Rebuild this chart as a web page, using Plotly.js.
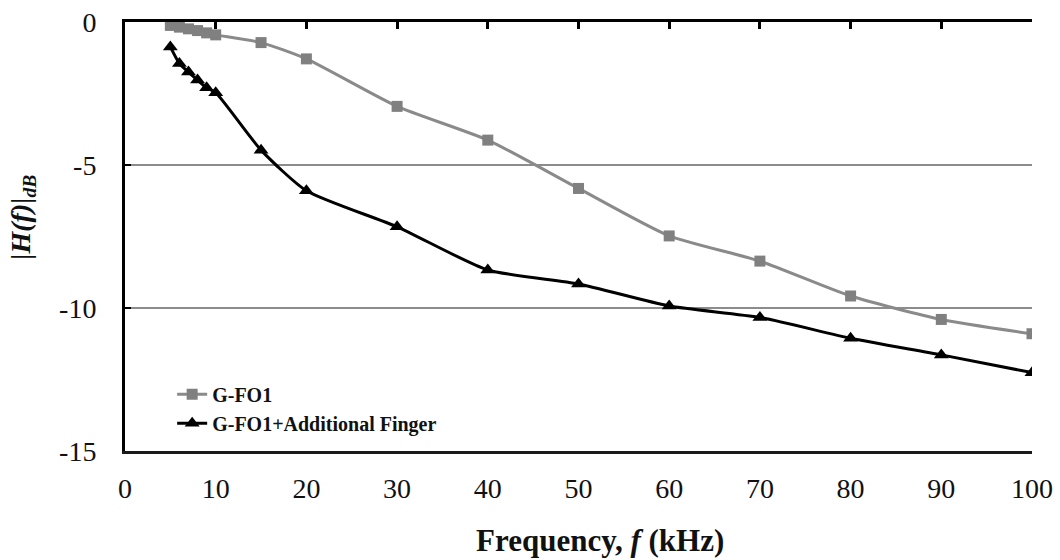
<!DOCTYPE html>
<html>
<head>
<meta charset="utf-8">
<script src="https://cdn.plot.ly/plotly-3.0.1.min.js"></script>
<style>html,body{margin:0;padding:0;background:#fff;}#chart{width:1060px;height:560px;}</style>
</head>
<body>
<div id="chart"></div>
<script>
// Frequency (kHz)
const freq = [5, 6, 7, 8, 9, 10, 15, 20, 30, 40, 50, 60, 70, 80, 90, 100];
// |H(f)| dB, G-FO1
const gfo1 = [-0.12, -0.18, -0.24, -0.3, -0.38, -0.45, -0.72, -1.29, -2.95, -4.13, -5.82, -7.48, -8.36, -9.58, -10.4, -10.9];
// |H(f)| dB, G-FO1 + Additional Finger
const gfo1Finger = [-0.87, -1.45, -1.75, -2.03, -2.3, -2.47, -4.48, -5.9, -7.16, -8.67, -9.16, -9.93, -10.33, -11.06, -11.64, -12.26];
const seriesNames = ['G-FO1', 'G-FO1+Additional Finger'];
const xTicks = [0, 10, 20, 30, 40, 50, 60, 70, 80, 90, 100];
const yTicks = [0, -5, -10, -15];

const serif = '"Liberation Serif", "Times New Roman", serif';

const traces = [
  {
    x: freq, y: gfo1, name: seriesNames[0], type: 'scatter', mode: 'lines+markers',
    line: {color: '#8a8a8a', width: 3, shape: 'spline', smoothing: 0.6},
    marker: {symbol: 'square', size: 11, color: '#808080'}
  },
  {
    x: freq, y: gfo1Finger, name: seriesNames[1], type: 'scatter', mode: 'lines+markers',
    line: {color: '#000000', width: 3, shape: 'spline', smoothing: 0.6},
    marker: {symbol: 'triangle-up', size: 13, color: '#000000'}
  },
  {
    x: [0], y: [-20], xaxis: 'x2', yaxis: 'y', showlegend: false, hoverinfo: 'skip', type: 'scatter', mode: 'markers',
    marker: {opacity: 0}
  }
];

const layout = {
  width: 1060, height: 560,
  margin: {l: 125, r: 28, t: 22, b: 109},
  paper_bgcolor: '#fff', plot_bgcolor: '#fff',
  font: {family: serif, color: '#111'},
  showlegend: true,
  legend: {
    x: 0.052, y: 0.178, xanchor: 'left', yanchor: 'top',
    font: {family: serif, size: 20, color: '#111', weight: 'bold'},
    bgcolor: 'rgba(0,0,0,0)', itemwidth: 30
  },
  xaxis: {
    range: [0, 100], tickmode: 'array', tickvals: xTicks, ticktext: xTicks.map(String),
    showgrid: false, zeroline: false, showline: true, linecolor: '#1a1a1a', linewidth: 3,
    ticks: '', tickfont: {family: serif, size: 28, color: '#111'}, ticklabelstandoff: 10
  },
  xaxis2: {
    range: [0, 100], overlaying: 'x', side: 'top', anchor: 'y', tickmode: 'array', tickvals: xTicks,
    showticklabels: false, showgrid: false, zeroline: false, showline: true, linecolor: '#000', linewidth: 3,
    ticks: 'inside', ticklen: 7, tickwidth: 3, tickcolor: '#000'
  },
  yaxis: {
    range: [-15, 0], tickmode: 'array', tickvals: yTicks, ticktext: yTicks.map(String),
    showgrid: true, gridcolor: '#8c8c8c', gridwidth: 2, zeroline: false,
    showline: true, linecolor: '#000', linewidth: 3,
    ticks: 'inside', ticklen: 6, tickwidth: 2, tickcolor: '#000',
    tickfont: {family: serif, size: 28, color: '#111'}, ticklabelstandoff: 20
  },
  annotations: [
    {
      text: 'Frequency, <i>f</i> (kHz)', xref: 'paper', yref: 'paper', x: 0.524, y: -0.208,
      xanchor: 'center', yanchor: 'middle', showarrow: false,
      font: {family: serif, size: 31, color: '#111', weight: 'bold'}
    },
    {
      text: '<b><i>|H(f)|</i></b><sub><b><i>dB</i></b></sub>', xref: 'paper', yref: 'paper', x: -0.113, y: 0.545,
      xanchor: 'center', yanchor: 'middle', showarrow: false, textangle: -90,
      font: {family: serif, size: 28, color: '#111'}
    }
  ]
};

Plotly.newPlot('chart', traces, layout, {displayModeBar: false, staticPlot: true});
</script>
</body>
</html>
